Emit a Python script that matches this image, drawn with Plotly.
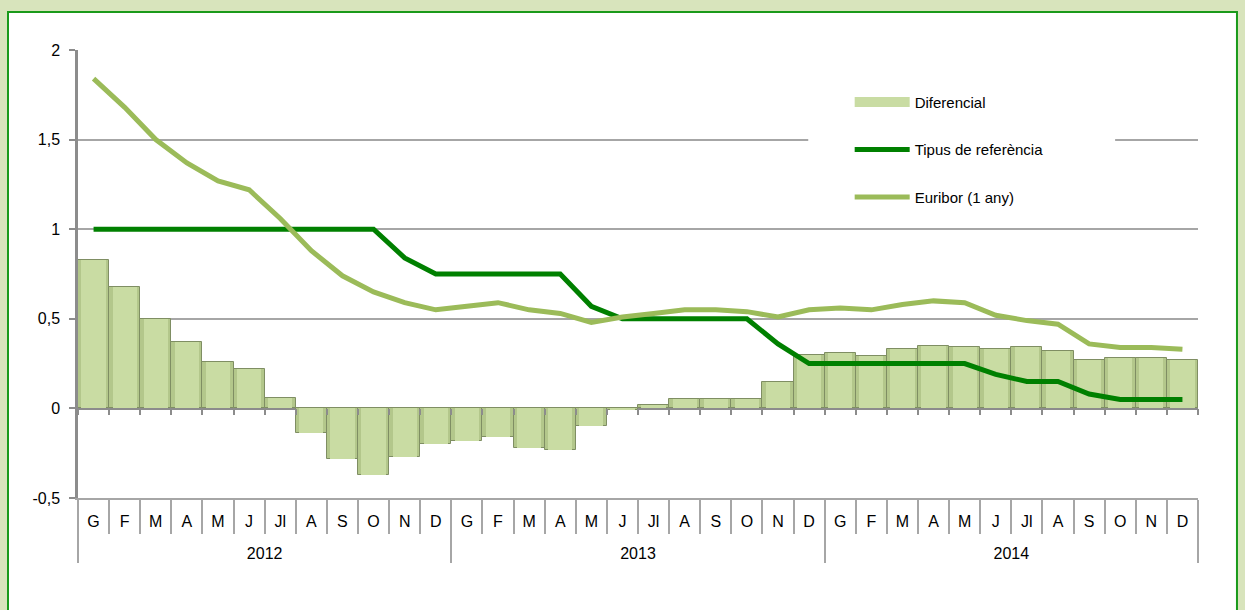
import plotly.graph_objects as go

years = ["2012", "2013", "2014"]
months = ["G", "F", "M", "A", "M\u200b", "J", "Jl", "A\u200b", "S", "O", "N", "D"]

diferencial = [0.83, 0.68, 0.50, 0.37, 0.26, 0.22, 0.06, -0.14, -0.28, -0.37, -0.27, -0.20,
               -0.18, -0.16, -0.22, -0.23, -0.10, -0.01, 0.02, 0.05, 0.05, 0.05, 0.15, 0.30,
               0.31, 0.29, 0.33, 0.35, 0.34, 0.33, 0.34, 0.32, 0.27, 0.28, 0.28, 0.27]
tipus = [1.00, 1.00, 1.00, 1.00, 1.00, 1.00, 1.00, 1.00, 1.00, 1.00, 0.84, 0.75,
         0.75, 0.75, 0.75, 0.75, 0.57, 0.50, 0.50, 0.50, 0.50, 0.50, 0.36, 0.25,
         0.25, 0.25, 0.25, 0.25, 0.25, 0.19, 0.15, 0.15, 0.08, 0.05, 0.05, 0.05]
euribor = [1.84, 1.68, 1.50, 1.37, 1.27, 1.22, 1.06, 0.88, 0.74, 0.65, 0.59, 0.55,
           0.57, 0.59, 0.55, 0.53, 0.48, 0.51, 0.53, 0.55, 0.55, 0.54, 0.51, 0.55,
           0.56, 0.55, 0.58, 0.60, 0.59, 0.52, 0.49, 0.47, 0.36, 0.34, 0.34, 0.33]

ytickvals = [-0.5, 0, 0.5, 1, 1.5, 2]
yticktext = ["-0,5", "0", "0,5", "1", "1,5", "2"]

# year labels pushed down one line so they sit below the month row
xcat = [["<br>" + y for y in years for _ in months], [m for _ in years for m in months]]

FONT = "Liberation Sans"
GRID = "#a6a6a6"
BAR = "#c9dca3"

fig = go.Figure()
fig.add_trace(go.Bar(
    x=xcat, y=diferencial, name="Diferencial", showlegend=False, width=1,
    marker=dict(color="#b3c78b", line=dict(color="#7f8e63", width=1)),
))
# lighter inner face for a bevelled look
fig.add_trace(go.Bar(
    x=xcat, y=diferencial, name="Diferencial", showlegend=False, width=0.78,
    marker=dict(color=BAR, line=dict(width=0)), hoverinfo="skip",
))
# legend entry for the bars drawn as a wide bar-coloured swatch (on the zero-line tick axis)
fig.add_trace(go.Scatter(
    x=xcat, y=[None] * len(diferencial), name="Diferencial", legendgroup="a",
    mode="lines", line=dict(color=BAR, width=11), xaxis="x2",
))
fig.add_trace(go.Scatter(
    x=xcat, y=tipus, name="Tipus de referència", legendgroup="b", mode="lines",
    line=dict(color="#008000", width=5),
))
fig.add_trace(go.Scatter(
    x=xcat, y=euribor, name="Euribor (1 any)", legendgroup="c", mode="lines",
    line=dict(color="#9bbb59", width=5),
))

fig.update_layout(
    width=1245, height=610,
    margin=dict(l=78, r=47, t=50, b=112),
    paper_bgcolor="#d8e4bc",
    plot_bgcolor="rgba(0,0,0,0)",
    barmode="overlay",
    bargap=0,
    font=dict(family=FONT, size=16, color="#000000"),
    showlegend=True,
    legend=dict(
        x=0.689, y=0.92, xanchor="left", yanchor="top",
        bgcolor="rgba(0,0,0,0)", itemwidth=55,
        tracegroupgap=25, traceorder="grouped",
        font=dict(family=FONT, size=15),
    ),
    shapes=[
        dict(type="rect", xref="paper", yref="paper",
             x0=-0.0625, x1=1.0348, y0=-0.3, y1=1.0848,
             fillcolor="#ffffff", line=dict(color="#1a9a1a", width=2), layer="below"),
        dict(type="rect", xref="paper", yref="y",
             x0=0.652, x1=0.926, y0=1.47, y1=1.53,
             fillcolor="#ffffff", line=dict(width=0), layer="above"),
    ],
    xaxis2=dict(
        type="multicategory", overlaying="x", anchor="free", position=0.2,
        side="bottom", showline=False, showgrid=False, showdividers=False,
        showticklabels=False, ticks="outside", tickson="boundaries",
        ticklen=6, tickcolor="#8c8c8c", tickwidth=1.5, automargin=False,
        matches="x",
    ),
)

fig.update_yaxes(
    range=[-0.5, 2], tickvals=ytickvals, ticktext=yticktext,
    showgrid=True, gridcolor=GRID, gridwidth=1.5,
    zeroline=True, zerolinecolor="#8c8c8c", zerolinewidth=2.5,
    showline=True, linecolor="#8c8c8c", linewidth=2.5,
    ticks="outside", ticklen=6, tickcolor="#8c8c8c", tickwidth=1.5,
    ticklabelstandoff=6,
    automargin=False,
)
fig.update_layout(xaxis=dict(
    type="multicategory",
    showline=True, linecolor=GRID, linewidth=2,
    ticks="outside", tickson="boundaries", ticklen=34, tickcolor=GRID, tickwidth=1.5,
    showdividers=True, dividercolor=GRID, dividerwidth=2,
    ticklabelstandoff=8,
    showgrid=False, automargin=False,
))

fig.write_html("out.html", config={"displayModeBar": False},
               post_script="document.body.style.margin='0';")
